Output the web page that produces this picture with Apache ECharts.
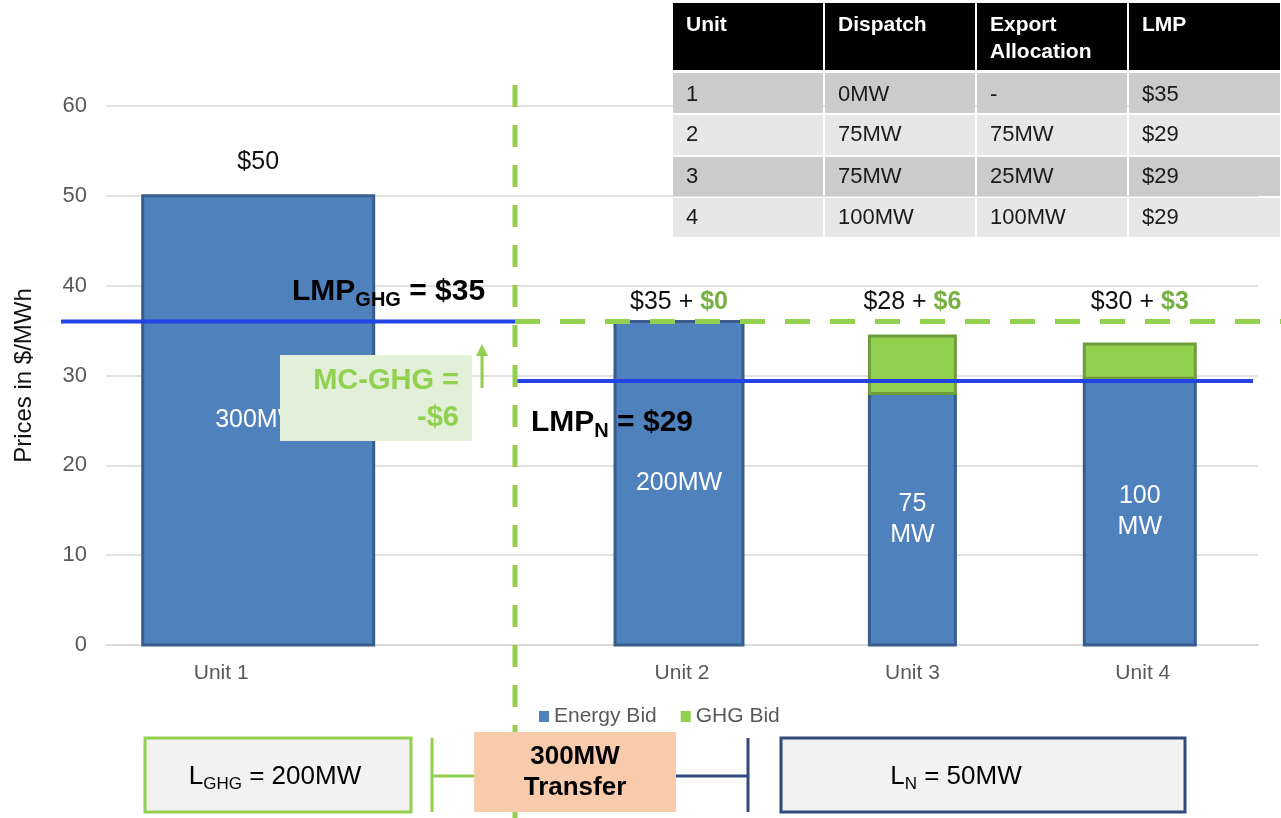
<!DOCTYPE html>
<html>
<head>
<meta charset="utf-8">
<title>LMP with GHG bids</title>
<script src="https://cdn.jsdelivr.net/npm/echarts@6/dist/echarts.min.js"></script>
<style>
html, body { margin: 0; padding: 0; background: #fff; }
#main { width: 1281px; height: 818px; }
</style>
</head>
<body>
<div id="main"></div>
<script>
// ---- chart data ----
var units = ['Unit 1', '', 'Unit 2', 'Unit 3', 'Unit 4'];
var energyBid = [50, null, 36, 28, 29.7];
var ghgBid = [null, null, 0, 6.4, 3.8];
var mwLabels = ['300MW', '', '200MW', '75\nMW', '100\nMW'];
var energyText = ['$50', '', '$35', '$28', '$30'];
var ghgText = ['', '', '$0', '$6', '$3'];
var lmpGhg = 36;
var lmpN = 29.4;

// ---- table data ----
var tableHead = ['Unit', 'Dispatch', 'Export\nAllocation', 'LMP'];
var tableRows = [
  ['1', '0MW', '-', '$35'],
  ['2', '75MW', '75MW', '$29'],
  ['3', '75MW', '25MW', '$29'],
  ['4', '100MW', '100MW', '$29']
];

// ---- styles ----
var FONT = '"Liberation Sans", Arial, sans-serif';
var BLUE = '#4f81bd', BLUE_EDGE = '#385d8a';
var GREEN = '#92d050', GREEN_EDGE = '#6e9e3b';
var LINE_BLUE = '#2343e6';
var barWidths = [231, 0, 128, 86, 111];   // bars are not all the same width
var barShift = [37, 0, -3, 0, -3];
var priceLabelAt = [53.7, null, 38.2, 38.2, 38.2];

var energyData = [], ghgData = [], labelData = [];
units.forEach(function (u, i) {
  if (energyBid[i] != null) energyData.push([i, 0, energyBid[i]]);
  if (ghgBid[i]) ghgData.push([i, energyBid[i], energyBid[i] + ghgBid[i]]);
  if (energyText[i]) labelData.push([i, priceLabelAt[i]]);
});

function barShape(api, idx, from, to) {
  var p0 = api.coord([idx, from]);
  var p1 = api.coord([idx, to]);
  var w = barWidths[idx];
  return { x: p0[0] + barShift[idx] - w / 2, y: p1[1], width: w, height: p0[1] - p1[1] };
}

var myChart = echarts.init(document.getElementById('main'));

var option = {
  animation: false,
  textStyle: { fontFamily: FONT },
  grid: { left: 106, right: 23, top: 106, bottom: 173 },
  legend: {
    left: 539, top: 706, padding: 0,
    itemWidth: 10, itemHeight: 11, itemGap: 24,
    textStyle: { fontSize: 21, color: '#595959', fontFamily: FONT },
    data: [{ name: 'Energy Bid', icon: 'rect' }, { name: 'GHG Bid', icon: 'rect' }]
  },
  xAxis: {
    type: 'category',
    data: units,
    axisLine: { lineStyle: { color: '#d9d9d9', width: 1.5 } },
    axisTick: { show: false },
    axisLabel: { fontSize: 21, color: '#595959', margin: 18, fontFamily: FONT }
  },
  yAxis: {
    type: 'value', min: 0, max: 60, interval: 10,
    name: 'Prices in $/MWh', nameLocation: 'middle', nameGap: 70,
    nameTextStyle: { fontSize: 24, color: '#111', fontFamily: FONT },
    axisLine: { show: false }, axisTick: { show: false },
    axisLabel: { fontSize: 22, color: '#595959', margin: 19, fontFamily: FONT },
    splitLine: { lineStyle: { color: '#d9d9d9', width: 1.5 } }
  },
  series: [{
    name: 'Energy Bid', type: 'custom',
    itemStyle: { color: BLUE },
    encode: { x: 0, y: [1, 2] },
    data: energyData,
    renderItem: function (params, api) {
      var idx = api.value(0);
      return {
        type: 'rect',
        shape: barShape(api, idx, api.value(1), api.value(2)),
        style: { fill: BLUE, stroke: BLUE_EDGE, lineWidth: 3 },
        textContent: {
          style: { text: mwLabels[idx], fill: '#fff', fontSize: 25, fontFamily: FONT, align: 'center', lineHeight: 31 }
        },
        textConfig: { position: 'inside' }
      };
    }
  }, {
    name: 'GHG Bid', type: 'custom',
    itemStyle: { color: GREEN },
    encode: { x: 0, y: [1, 2] },
    data: ghgData,
    renderItem: function (params, api) {
      var idx = api.value(0);
      return {
        type: 'rect',
        shape: barShape(api, idx, api.value(1), api.value(2)),
        style: { fill: GREEN, stroke: GREEN_EDGE, lineWidth: 3 }
      };
    }
  }, {
    name: 'price labels', type: 'custom',
    encode: { x: 0, y: 1 },
    data: labelData,
    renderItem: function (params, api) {
      var idx = api.value(0);
      var p = api.coord([idx, api.value(1)]);
      var txt = '{k|' + energyText[idx] + (ghgText[idx] ? ' + }{g|' + ghgText[idx] + '}' : '}');
      return {
        type: 'text',
        x: p[0] + barShift[idx], y: p[1],
        style: {
          text: txt, align: 'center', verticalAlign: 'middle',
          rich: {
            k: { fontSize: 25, fill: '#111', fontFamily: FONT },
            g: { fontSize: 25, fill: '#76b041', fontWeight: 'bold', fontFamily: FONT }
          }
        }
      };
    }
  }]
};

myChart.setOption(option);

// ---- annotations ----
var yG = myChart.convertToPixel({ yAxisIndex: 0 }, lmpGhg);
var yN = myChart.convertToPixel({ yAxisIndex: 0 }, lmpN);
var divX = 515;

function line(x1, y1, x2, y2, color, w, dash) {
  return { type: 'line', z: 50, shape: { x1: x1, y1: y1, x2: x2, y2: y2 },
    style: { stroke: color, lineWidth: w, lineDash: dash || null } };
}
function box(x, y, w, h, fill, stroke) {
  return { type: 'rect', z: 60, shape: { x: x, y: y, width: w, height: h },
    style: { fill: fill, stroke: stroke || null, lineWidth: 3 } };
}
function text(x, y, str, st) {
  var s = Object.assign({ text: str, fontFamily: FONT, verticalAlign: 'middle' }, st);
  return { type: 'text', z: 70, x: x, y: y, style: s };
}

var subRich = function (size, subSize, weight) {
  return {
    m: { fontSize: size, fontWeight: weight, fill: '#000', fontFamily: FONT, lineHeight: size + 6 },
    s: { fontSize: subSize, fontWeight: weight, fill: '#000', fontFamily: FONT, lineHeight: size + 6,
         verticalAlign: 'bottom', padding: [Math.round(size * 0.45), 0, 0, 0] }
  };
};

var g = [];
// LMP lines and green dashed divider
g.push(line(61, yG, divX, yG, LINE_BLUE, 4));
g.push(line(divX, yN, 1253, yN, LINE_BLUE, 4));
g.push(line(divX, 85, divX, 818, GREEN, 5, [22, 18]));
g.push(line(divX, yG, 1281, yG, GREEN, 5, [25, 20]));

// LMP labels
g.push(text(292, 292, '{m|LMP}{s|GHG}{m| = $35}', { rich: subRich(30, 20, 'bold') }));
g.push(text(531, 423, '{m|LMP}{s|N}{m| = $29}', { rich: subRich(30, 20, 'bold') }));

// MC-GHG note
g.push(box(280, 355, 192, 86, '#e2efd9'));
g.push(text(459, 399, 'MC-GHG =\n-$6', { fill: GREEN, fontSize: 29, fontWeight: 'bold', align: 'right', lineHeight: 37 }));
g.push(line(482, 388, 482, 352, GREEN, 3));
g.push({ type: 'polygon', z: 60, shape: { points: [[476, 356], [488, 356], [482, 344]] }, style: { fill: GREEN } });

// table
var colX = [672, 824, 976, 1128, 1281];
var rowY = [3, 72, 114, 156, 197, 238];
var rowMid = [0, 95, 135, 177, 218];
tableHead.forEach(function (h, c) {
  g.push({ type: 'rect', z: 60, shape: { x: colX[c] + 1, y: rowY[0], width: colX[c + 1] - colX[c] - 2, height: rowY[1] - rowY[0] - 2 },
    style: { fill: '#000' } });
  g.push(text(colX[c] + 14, 12, h, { fill: '#fff', fontSize: 21, fontWeight: 'bold', verticalAlign: 'top', lineHeight: 27 }));
});
tableRows.forEach(function (row, r) {
  row.forEach(function (cell, c) {
    g.push({ type: 'rect', z: 60,
      shape: { x: colX[c] + 1, y: rowY[r + 1] + 1, width: colX[c + 1] - colX[c] - 2, height: rowY[r + 2] - rowY[r + 1] - 2 },
      style: { fill: r % 2 === 0 ? '#cbcbcb' : '#e7e7e7' } });
    g.push(text(colX[c] + 14, rowMid[r + 1], cell, { fill: '#1a1a1a', fontSize: 22 }));
  });
});

// bottom boxes
g.push(box(145, 738, 266, 74, '#f2f2f2', GREEN));
g.push(text(275, 777, '{m|L}{s|GHG}{m| = 200MW}', { align: 'center', rich: subRich(26, 17, 'normal') }));
g.push(line(432, 738, 432, 812, GREEN, 3));
g.push(line(432, 776, 474, 776, GREEN, 3));
g.push(box(474, 732, 202, 80, '#f8cbad'));
g.push(text(575, 772, '300MW\nTransfer', { align: 'center', fontSize: 26, fontWeight: 'bold', fill: '#000', lineHeight: 31 }));
g.push(line(676, 776, 748, 776, '#2f4b7c', 3));
g.push(line(748, 738, 748, 812, '#2f4b7c', 3));
g.push(box(781, 738, 404, 74, '#f2f2f2', '#2f4b7c'));
g.push(text(956, 777, '{m|L}{s|N}{m| = 50MW}', { align: 'center', rich: subRich(26, 17, 'normal') }));

myChart.setOption({ graphic: g });
</script>
</body>
</html>
